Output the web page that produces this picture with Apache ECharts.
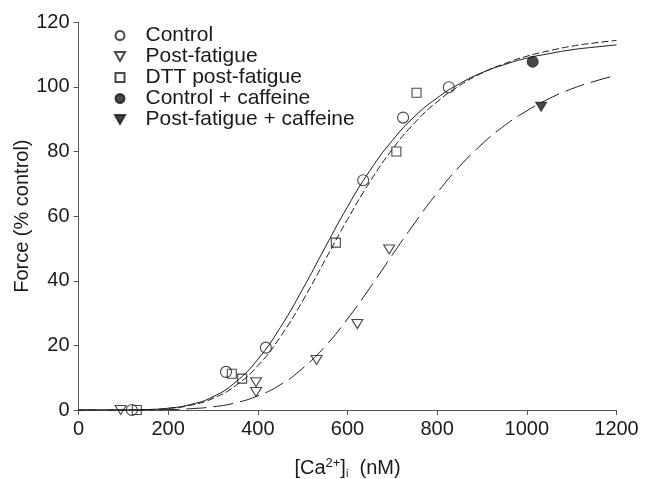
<!DOCTYPE html>
<html>
<head>
<meta charset="UTF-8">
<title>Force vs Ca</title>
<style>
    html, body { margin: 0; padding: 0; background: #fff; }
    #chartArea { width: 646px; height: 479px; }
</style>
</head>
<body>
<div id="chartArea"></div>
<script src="https://cdn.jsdelivr.net/npm/echarts@6/dist/echarts.min.js"></script>
<script>
// measured points [Ca nM, force %]
var controlPts      = [[119, 0], [329, 11.8], [418, 19.3], [635, 71.1], [724, 90.5], [826, 99.9]];
var fatiguePts      = [[94, 0], [396, 8.6], [396, 5.6], [531, 15.5], [622, 26.6], [693, 49.7]];
var dttPts          = [[130, 0], [342, 11.2], [365, 9.7], [574, 51.8], [709, 80.0], [754, 98.2]];
var ctrlCaffPts     = [[1013, 107.8]];
var fatigueCaffPts  = [[1032, 93.9]];

// fitted curves every 50 nM
var curveX       = [0, 50, 100, 150, 200, 250, 300, 350, 400, 450, 500, 550, 600,
                    650, 700, 750, 800, 850, 900, 950, 1000, 1050, 1100, 1150, 1200];
var controlFit   = [0, 0, 0.02, 0.13, 0.56, 1.7, 4.1, 8.6, 15.7, 25.5, 37.4, 50.3, 62.9,
                    74.1, 83.4, 90.9, 96.6, 101.0, 104.4, 106.9, 108.9, 110.3, 111.5, 112.3, 113.0];
var dttFit       = [0, 0, 0.02, 0.12, 0.48, 1.46, 3.6, 7.5, 13.7, 22.6, 33.8, 46.4, 59.0,
                    70.6, 80.7, 88.9, 95.4, 100.4, 104.3, 107.2, 109.5, 111.2, 112.6, 113.6, 114.4];
var fatigueFit   = [0, 0, 0, 0.03, 0.12, 0.4, 1.0, 2.2, 4.4, 7.8, 12.9, 19.7, 28.2,
                    37.8, 48.0, 57.9, 67.2, 75.4, 82.3, 88.0, 92.6, 96.4, 99.4, 101.7, 103.6];

var legendNames = ['Control', 'Post-fatigue', 'DTT post-fatigue', 'Control + caffeine', 'Post-fatigue + caffeine'];

function pair(xs, ys) {
    return xs.map(function (x, i) { return [x, ys[i]]; });
}

var ink = '#1a1a1a';
var triDown = 'path://M0,0L10,0L5,9Z';
var square = 'path://M0,0L10,0L10,10L0,10Z';
var openStyle = { color: 'rgba(255,255,255,0)', borderColor: ink, borderWidth: 1.1 };
var solidStyle = { color: ink, borderColor: ink, borderWidth: 1 };

function curve(data, dash) {
    return {
        type: 'line',
        data: data,
        smooth: true,
        showSymbol: false,
        silent: true,
        z: 1,
        lineStyle: { color: ink, width: 1, type: dash }
    };
}

var myChart = echarts.init(document.getElementById('chartArea'));
myChart.setOption({
    animation: false,
    textStyle: { fontFamily: 'Liberation Sans, Arial, sans-serif' },
    grid: { left: 78.5, right: 29.5, top: 22.3, bottom: 69, outerBoundsMode: 'none', containLabel: false },
    legend: {
        data: legendNames,
        orient: 'vertical',
        left: 109,
        top: 20,
        itemWidth: 41,
        itemHeight: 9,
        itemGap: 0,
        selectedMode: false,
        textStyle: { fontSize: 21, color: ink }
    },
    xAxis: {
        type: 'value',
        min: 0,
        max: 1200,
        interval: 200,
        splitLine: { show: false },
        axisLine: { lineStyle: { color: '#555', width: 1 } },
        axisTick: { length: 5, lineStyle: { color: '#555' } },
        axisLabel: { fontSize: 20, color: ink, margin: 9, formatter: function (v) { return String(v); } },
        name: '[Ca{sup|2+}]{sub|i}  (nM)',
        nameLocation: 'middle',
        nameGap: 47,
        nameMoveOverlap: false,
        nameTextStyle: {
            fontSize: 20, color: ink,
            rich: {
                sup: { fontSize: 13, color: ink, padding: [0, 0, 9, 0] },
                sub: { fontSize: 11, color: ink, padding: [11, 0, 0, 0] }
            }
        }
    },
    yAxis: {
        type: 'value',
        min: 0,
        max: 120,
        interval: 20,
        splitLine: { show: false },
        axisLine: { show: true, lineStyle: { color: '#555', width: 1 } },
        axisTick: { show: true, length: 5, lineStyle: { color: '#555' } },
        axisLabel: { fontSize: 20, color: ink, margin: 9 },
        name: 'Force (% control)',
        nameLocation: 'middle',
        nameRotate: 90,
        nameGap: 46,
        nameMoveOverlap: false,
        nameTextStyle: { fontSize: 20, color: ink }
    },
    series: [
        curve(pair(curveX, controlFit), 'solid'),
        curve(pair(curveX, dttFit), [7, 3]),
        curve(pair(curveX, fatigueFit), [20, 7]),
        {
            name: 'Control', type: 'scatter', data: controlPts,
            symbol: 'circle', symbolSize: 11, itemStyle: openStyle, z: 3
        },
        {
            name: 'Post-fatigue', type: 'scatter', data: fatiguePts,
            symbol: triDown, symbolSize: [11, 9], itemStyle: openStyle, z: 3
        },
        {
            name: 'DTT post-fatigue', type: 'scatter', data: dttPts,
            symbol: square, symbolSize: 9, itemStyle: openStyle, z: 3
        },
        {
            name: 'Control + caffeine', type: 'scatter', data: ctrlCaffPts,
            symbol: 'circle', symbolSize: 11, itemStyle: solidStyle, z: 3
        },
        {
            name: 'Post-fatigue + caffeine', type: 'scatter', data: fatigueCaffPts,
            symbol: triDown, symbolSize: [11, 9], itemStyle: solidStyle, z: 3
        }
    ]
});
</script>
</body>
</html>
